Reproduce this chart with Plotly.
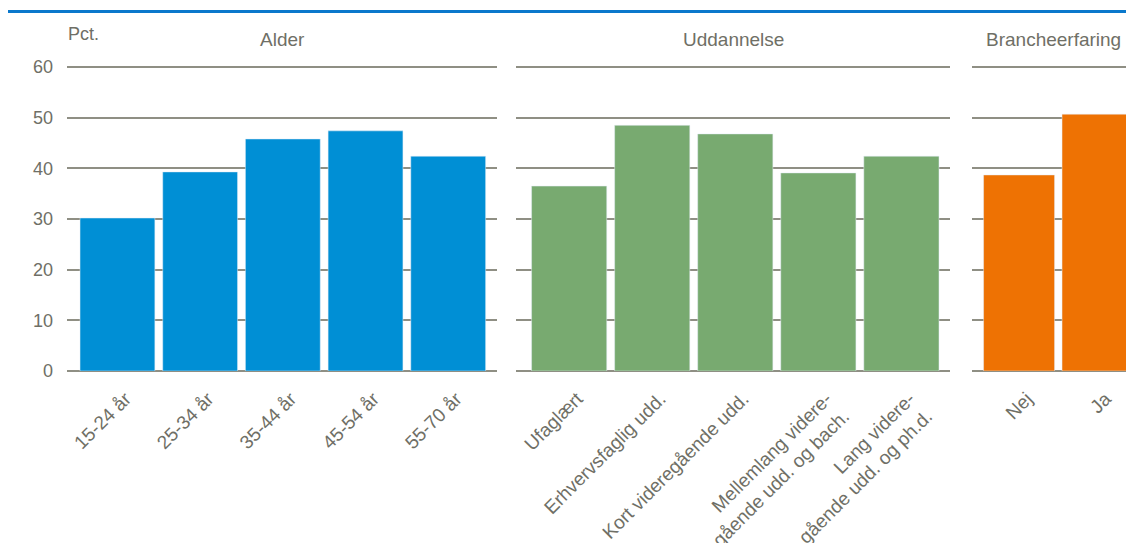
import plotly.graph_objects as go

# Data
age_labels = ["15-24 år", "25-34 år", "35-44 år", "45-54 år", "55-70 år"]
age_values = [30.2, 39.3, 45.8, 47.4, 42.4]

edu_labels = ["Ufaglært", "Erhvervsfaglig udd.", "Kort videregående udd.",
              "Mellemlang videre-<br>gående udd. og bach.",
              "Lang videre-<br>gående udd. og ph.d."]
edu_values = [36.5, 48.5, 46.8, 39.1, 42.4]

exp_labels = ["Nej", "Ja"]
exp_values = [38.7, 50.7]

panel_titles = ["Alder", "Uddannelse", "Brancheerfaring"]
y_ticks = [0, 10, 20, 30, 40, 50, 60]

OFF = 8  # page body margin offset
W, H = 1134 - OFF, 543 - OFF
TXT = "#6f6f66"
GRID = "#8f8f84"
FONT = "Liberation Sans, Arial, sans-serif"

YMAX = 60.6
BOT = 371 - OFF                      # y pixel of value 0 (figure coords)
PLOT_H = 307                         # 60.6 * 304/60
TOP_MARGIN = BOT - PLOT_H

fig = go.Figure()
fig.add_trace(go.Bar(x=age_labels, y=age_values, marker_color="#008fd5",
                     xaxis="x", yaxis="y", hoverinfo="x+y"))
fig.add_trace(go.Bar(x=edu_labels, y=edu_values, marker_color="#78aa70",
                     xaxis="x2", yaxis="y2", hoverinfo="x+y"))
fig.add_trace(go.Bar(x=exp_labels, y=exp_values, marker_color="#ee7203",
                     xaxis="x3", yaxis="y3", hoverinfo="x+y"))

def xax(domain, rng, anchor):
    return dict(domain=domain, range=rng, anchor=anchor, type="category",
                tickangle=-45, showgrid=False, showline=False, ticks="",
                ticklabelstandoff=12, ticklabelshift=8, automargin=False,
                tickfont=dict(size=19, color=TXT, family=FONT), fixedrange=True)

def yax(anchor, show):
    return dict(anchor=anchor, range=[0, YMAX], tickvals=y_ticks,
                showticklabels=show, showgrid=True, gridcolor=GRID, gridwidth=1.5,
                zeroline=True, zerolinecolor=GRID, zerolinewidth=1.5,
                showline=False, ticks="", ticklabelstandoff=13, automargin=False,
                tickfont=dict(size=18, color=TXT, family=FONT), fixedrange=True)

def px_x(x):
    return (x - OFF) / W

d1 = [px_x(67), px_x(497)]
d2 = [px_x(516), px_x(950)]
d3 = [px_x(972), 1.0]

fig.update_layout(
    width=W, height=H,
    margin=dict(l=0, r=0, t=TOP_MARGIN, b=H - BOT, autoexpand=False),
    paper_bgcolor="white", plot_bgcolor="white",
    showlegend=False, bargap=0.095,
    font=dict(family=FONT, color=TXT, size=18),
    xaxis=xax(d1, [-0.61, 4.59], "y"),
    xaxis2=xax(d2, [-0.64, 4.585], "y2"),
    xaxis3=xax(d3, [-0.6, 1.465], "y3"),
    yaxis=yax("x", True),
    yaxis2=yax("x2", False),
    yaxis3=yax("x3", False),
)

def py(p):
    return (BOT - (p - OFF)) / PLOT_H

for title, dom in zip(panel_titles, [d1, d2, [px_x(972), px_x(1134)]]):
    fig.add_annotation(text=title, x=(dom[0] + dom[1]) / 2, y=py(40),
                       xref="paper", yref="paper", showarrow=False,
                       xanchor="center", yanchor="middle",
                       font=dict(size=19, color=TXT, family=FONT))

fig.add_annotation(text="Pct.", x=px_x(66), y=py(34), xref="paper", yref="paper",
                   showarrow=False, xanchor="left", yanchor="middle",
                   font=dict(size=18, color=TXT, family=FONT))

fig.add_shape(type="line", xref="paper", yref="paper",
              x0=0, x1=1.0, y0=py(11.5), y1=py(11.5),
              line=dict(color="#0a78cc", width=3))

fig.write_html("out.html")
